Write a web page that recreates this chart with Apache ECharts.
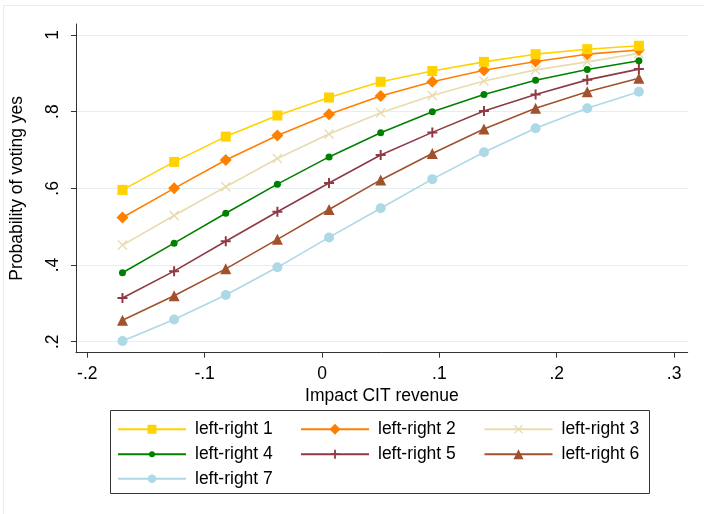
<!DOCTYPE html>
<html>
<head>
<meta charset="utf-8">
<script src="https://cdn.jsdelivr.net/npm/echarts@6/dist/echarts.min.js"></script>
<style>
html,body{margin:0;padding:0;background:#fff;}
#chart{width:704px;height:514px;}
</style>
</head>
<body>
<div id="chart"></div>
<script>
const xValues = [-0.170, -0.126, -0.082, -0.038, 0.006, 0.050, 0.094, 0.138, 0.182, 0.226, 0.270];
const lr1 = [0.596, 0.669, 0.735, 0.790, 0.837, 0.878, 0.906, 0.930, 0.950, 0.963, 0.972];
const lr2 = [0.524, 0.600, 0.674, 0.738, 0.793, 0.841, 0.878, 0.908, 0.931, 0.950, 0.961];
const lr3 = [0.452, 0.529, 0.604, 0.678, 0.742, 0.797, 0.842, 0.880, 0.909, 0.930, 0.952];
const lr4 = [0.380, 0.457, 0.535, 0.611, 0.682, 0.745, 0.800, 0.845, 0.882, 0.910, 0.933];
const lr5 = [0.314, 0.384, 0.462, 0.539, 0.614, 0.687, 0.746, 0.802, 0.845, 0.883, 0.911];
const lr6 = [0.256, 0.320, 0.390, 0.467, 0.545, 0.622, 0.691, 0.755, 0.809, 0.852, 0.887];
const lr7 = [0.202, 0.258, 0.322, 0.394, 0.472, 0.548, 0.624, 0.694, 0.757, 0.809, 0.852];
const seriesNames = ['left-right 1','left-right 2','left-right 3','left-right 4','left-right 5','left-right 6','left-right 7'];
const xTicks = [-0.2, -0.1, 0, 0.1, 0.2, 0.3];
const yTicks = [0.2, 0.4, 0.6, 0.8, 1];

const FONT = "'Liberation Sans', Arial, sans-serif";
const colors = ['#FFD200', '#FF8000', '#E8DBAE', '#008000', '#8E3A45', '#A0522D', '#ADD8E6'];
const PLUS = 'path://M4,0H6V4H10V6H6V10H4V6H0V4H4Z';
const XMARK = 'path://M0,1L1,0L5,4L9,0L10,1L6,5L10,9L9,10L5,6L1,10L0,9L4,5Z';
const symbols = ['rect', 'diamond', XMARK, 'circle', PLUS, 'triangle', 'circle'];
const sizes = [10, 12, 10, 7, 10, 11, 10];
const legendSizes = [9, 11, 9, 6, 9, 10, 8.5];
const allData = [lr1, lr2, lr3, lr4, lr5, lr6, lr7];

function fmt(v) {
  const r = Math.round(v * 10) / 10;
  if (r === 0) return '0';
  let s = String(Math.abs(r)).replace(/^0/, '');
  return (r < 0 ? '-' : '') + s;
}

const series = allData.map((d, i) => ({
  name: seriesNames[i],
  type: 'line',
  data: d.map((y, j) => [xValues[j], y]),
  symbol: symbols[i],
  symbolSize: sizes[i],
  showSymbol: true,
  lineStyle: { color: colors[i], width: 1.6 },
  itemStyle: { color: colors[i], borderWidth: 0 },
  emphasis: { disabled: true },
  z: 10 - i
}));

const colLeft = [117, 300, 483.5];
const rowCenter = [427.3, 452.2, 476.8];
const legends = seriesNames.map((n, i) => {
  const ih = legendSizes[i] / 0.8;
  const col = i % 3, row = Math.floor(i / 3);
  return {
    orient: 'vertical',
    left: colLeft[col],
    top: rowCenter[row] - 9,
    padding: 0,
    itemWidth: 68,
    itemHeight: ih,
    data: [n],
    selectedMode: false,
    textStyle: { fontFamily: FONT, fontSize: 17.5, color: '#000', lineHeight: 22, padding: [0, 0, 0, 4] }
  };
});

const chart = echarts.init(document.getElementById('chart'), null, { renderer: 'canvas' });
chart.setOption({
  animation: false,
  backgroundColor: '#fff',
  grid: { left: 72.7, right: 16.3, top: 24, bottom: 161.3, containLabel: false },
  xAxis: {
    type: 'value',
    min: -0.2096, max: 0.3116,
    name: 'Impact CIT revenue',
    nameLocation: 'middle',
    nameGap: 27,
    nameTextStyle: { fontFamily: FONT, fontSize: 17.5, color: '#000' },
    axisLine: { show: true, onZero: false, lineStyle: { color: '#333', width: 1 } },
    axisTick: { show: true, length: 5, customValues: xTicks, lineStyle: { color: '#333' } },
    axisLabel: { customValues: xTicks, formatter: fmt, fontFamily: FONT, fontSize: 17.5, color: '#000', margin: 12 },
    splitLine: { show: false }
  },
  yAxis: {
    type: 'value',
    min: 0.1713, max: 1.0287,
    name: 'Probability of voting yes',
    nameLocation: 'middle',
    nameGap: 50,
    nameTextStyle: { fontFamily: FONT, fontSize: 17.5, color: '#000' },
    axisLine: { show: true, onZero: false, lineStyle: { color: '#333', width: 1 } },
    axisTick: { show: true, length: 5, customValues: yTicks, lineStyle: { color: '#333' } },
    axisLabel: { customValues: yTicks, formatter: fmt, rotate: 90, fontFamily: FONT, fontSize: 17.5, color: '#000', margin: 14 },
    splitLine: { show: true, lineStyle: { color: '#E6EEF0', width: 1.2 } }
  },
  legend: legends,
  graphic: [
    { type: 'rect', shape: { x: 3.5, y: 5.5, width: 720, height: 530 }, style: { fill: null, stroke: '#E6EEF0', lineWidth: 1.2 }, silent: true, z: -1 },
    { type: 'rect', shape: { x: 110.5, y: 410.5, width: 539, height: 83 }, style: { fill: null, stroke: '#333', lineWidth: 1 }, silent: true }
  ],
  series: series
});
</script>
</body>
</html>
